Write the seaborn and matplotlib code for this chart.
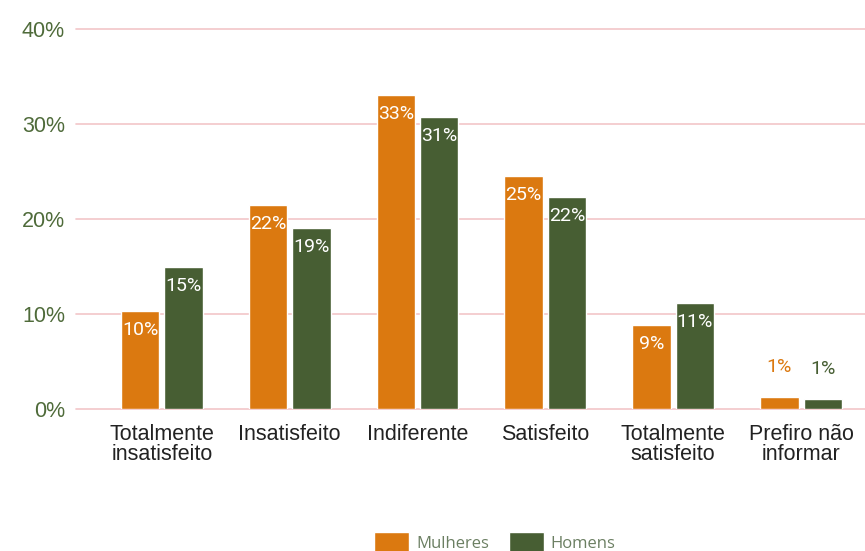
import matplotlib
matplotlib.use("Agg")
import matplotlib.pyplot as plt
import seaborn as sns
import pandas as pd

categorias = ["Totalmente\ninsatisfeito", "Insatisfeito", "Indiferente",
              "Satisfeito", "Totalmente\nsatisfeito", "Prefiro não\ninformar"]
mulheres = [10.3, 21.5, 33.1, 24.5, 8.8, 1.2]
homens = [14.9, 19.1, 30.8, 22.3, 11.1, 1.0]
rotulos_m = ["10%", "22%", "33%", "25%", "9%", "1%"]
rotulos_h = ["15%", "19%", "31%", "22%", "11%", "1%"]
grupos = ["Mulheres", "Homens"]
cores = ["#DB7910", "#475E33"]

df = pd.DataFrame({
    "cat": categorias * 2,
    "valor": mulheres + homens,
    "grupo": [grupos[0]] * 6 + [grupos[1]] * 6,
})

sns.set_style("white")
plt.rcParams["font.family"] = ["Liberation Sans", "DejaVu Sans"]

fig = plt.figure(figsize=(8.65, 5.51), dpi=100)
ax = fig.add_axes([0.088, 0.258, 0.912, 0.689])

sns.barplot(data=df, x="cat", y="valor", hue="grupo", palette=cores,
            width=0.68, gap=0.118, ax=ax, saturation=1, legend=True)

ax.set_ylim(0, 40)
ax.set_xlim(-0.67, 5.5)
ax.set_yticks([0, 10, 20, 30, 40])
ax.set_yticklabels(["0%", "10%", "20%", "30%", "40%"])
ax.yaxis.grid(True, color="#F2C6C8", linewidth=1.2)
for gl in ax.get_ygridlines():
    gl.set_clip_on(False)
ax.set_axisbelow(True)
for s in ax.spines.values():
    s.set_visible(False)
ax.tick_params(axis="y", length=0, pad=8, labelsize=15.5, labelcolor="#4F6B3A")
ax.tick_params(axis="x", length=0, pad=11, labelsize=15.5, labelcolor="#222222")
for t in ax.get_xticklabels():
    t.set_linespacing(0.95)
ax.set_xlabel("")
ax.set_ylabel("")

# rótulos de dados
for cont, rot, cor in zip(ax.containers, [rotulos_m, rotulos_h], cores):
    for i, (bar, txt) in enumerate(zip(cont, rot)):
        x = bar.get_x() + bar.get_width() / 2
        h = bar.get_height()
        if i == 5:
            ax.annotate(txt, (x, h), xytext=(0, 30), textcoords="offset pixels",
                        ha="center", va="center", color=cor, fontsize=14,
                        family="Roboto")
        else:
            ax.annotate(txt, (x, h), xytext=(0, -19), textcoords="offset pixels",
                        ha="center", va="center", color="white", fontsize=14,
                        family="Roboto")

leg = ax.legend(loc="center", bbox_to_anchor=(495 / 865, (551 - 542) / 551),
                bbox_transform=fig.transFigure, ncol=2, frameon=False,
                handlelength=2.1, handleheight=1.4, columnspacing=1.2,
                handletextpad=0.4, prop={"family": "Open Sans", "size": 12})
for t in leg.get_texts():
    t.set_color("#6B7F62")

fig.savefig("out.png", dpi=100)
